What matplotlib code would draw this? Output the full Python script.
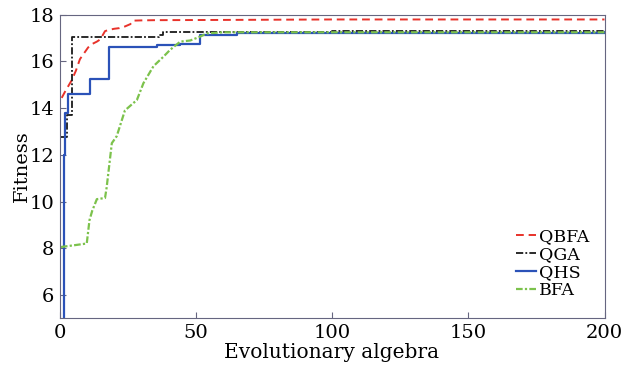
import numpy as np
import matplotlib.pyplot as plt

plt.rcParams['font.family'] = ['DejaVu Serif']
plt.rcParams['mathtext.fontset'] = 'dejavuserif'

# ===================== 数据 =====================
qbfa_x = [0.8, 2, 3, 4.5, 6, 7.5, 9, 10.5, 12, 13.7, 15, 16.7, 18, 20, 22, 24, 26, 27, 30, 35, 60, 100, 150, 200]
qbfa_y = [14.44, 14.7, 14.9, 15.2, 15.6, 16.1, 16.35, 16.6, 16.75, 16.85, 16.95, 17.3, 17.35, 17.4, 17.43, 17.5, 17.6, 17.75, 17.76, 17.77, 17.78, 17.8, 17.8, 17.8]

qga_x = [0.5, 2.6, 4.5, 36.5, 38, 100, 200]
qga_y = [12.78, 13.7, 17.07, 17.15, 17.27, 17.3, 17.3]

qhs_x = [1.2, 1.8, 2.2, 3.2, 11.2, 18, 35.7, 44.3, 51.7, 65, 200]
qhs_y = [4.0, 12.0, 13.8, 14.6, 15.25, 16.64, 16.7, 16.75, 17.12, 17.22, 17.25]

bfa_x = [0.5, 5, 10, 11, 12, 13.7, 16.7, 17.3, 19.2, 21, 24, 28.4, 30.8, 34.5, 38.1, 40.6, 44.3, 48, 51.7, 54, 60, 100, 200]
bfa_y = [8.05, 8.12, 8.2, 9.2, 9.6, 10.1, 10.15, 10.6, 12.5, 12.8, 13.9, 14.35, 15.07, 15.8, 16.2, 16.5, 16.85, 16.9, 17.07, 17.2, 17.25, 17.25, 17.25]

# ===================== 绘图 =====================
fig, ax = plt.subplots(figsize=(6.33, 3.7), dpi=100)
ax.plot(qbfa_x, qbfa_y, color='#e8322a', ls=(0, (4, 2.5)), lw=1.4, label='QBFA')
ax.plot(qga_x, qga_y, color='#1a1a1a', ls=(0, (4, 1.2, 1, 1.2)), lw=1.3, drawstyle='steps-post', label='QGA')
ax.plot(qhs_x, qhs_y, color='#2b52b8', ls='-', lw=1.6, drawstyle='steps-post', label='QHS')
ax.plot(bfa_x, bfa_y, color='#7cc24c', ls=(0, (3, 1, 1, 1)), lw=1.6, label='BFA')

ax.set_xlim(0, 200)
ax.set_ylim(5, 18)
ax.set_xticks([0, 50, 100, 150, 200])
ax.set_yticks([6, 8, 10, 12, 14, 16, 18])
ax.tick_params(direction='in', labelsize=14, length=4, color='#666680', pad=4)
for sp in ax.spines.values():
    sp.set_color('#666680')
ax.set_xlabel('Evolutionary algebra', fontsize=14.5, labelpad=1)
ax.set_ylabel('Fitness', fontsize=14)
ax.yaxis.set_label_coords(-0.052, 0.5)

ax.legend(loc='lower right', frameon=False, fontsize=12.5, handlelength=1.15,
          handletextpad=0.15, labelspacing=0.05, bbox_to_anchor=(1.0, 0.012))

plt.subplots_adjust(left=0.094, right=0.955, top=0.96, bottom=0.14)
plt.savefig('out.png', dpi=100)
plt.close()
